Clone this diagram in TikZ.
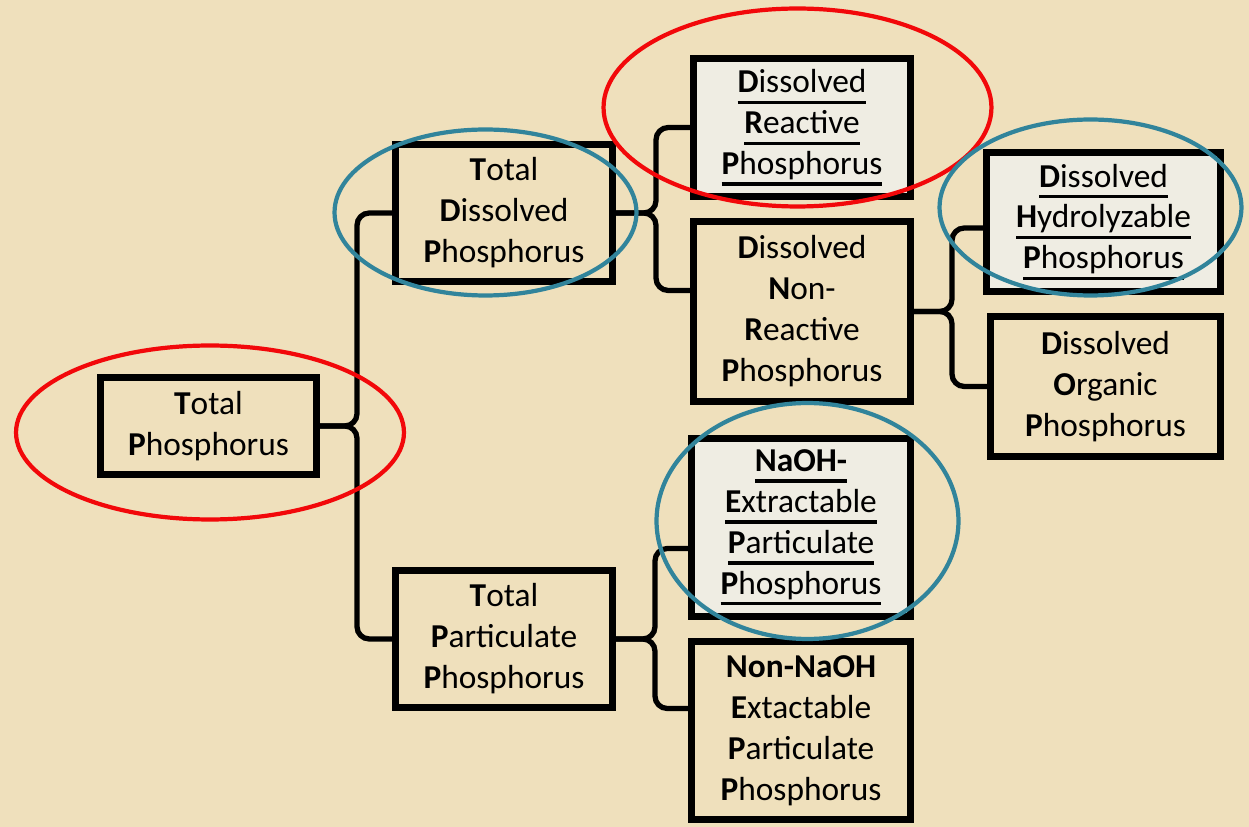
\documentclass[tikz,border=0pt]{standalone}
\usepackage{fontspec}
\setmainfont{Carlito}
\definecolor{parch}{HTML}{EFE0BC}
\definecolor{paper}{HTML}{EFEDE3}
\definecolor{ringR}{HTML}{F2080A}
\definecolor{ringB}{HTML}{31849B}
\newsavebox{\ulbox}
\newcommand{\uln}[1]{\sbox{\ulbox}{#1}\rlap{\rule[-6.4pt]{\wd\ulbox}{1.8pt}}\usebox{\ulbox}}

\begin{document}
\begin{tikzpicture}[x=0.02cm,y=-0.02cm,
  box/.style={draw,line width=3.8pt,inner sep=0pt,align=center,
    font=\fontsize{19}{23.3}\selectfont},
  pick/.style={box,fill=paper},
  brace/.style={line width=3pt,rounded corners=7pt},
  ringr/.style={ringR,line width=2.4pt},
  ringb/.style={ringB,line width=2.4pt}]
\fill[parch] (0,0) rectangle (1249,827);
\useasboundingbox (0,0) rectangle (1249,827);

% boxes
\node[box,minimum width=4.32cm,minimum height=1.94cm] (tp) at (208.5,426) {\textbf{T}otal\\\textbf{P}hosphorus};
\node[box,minimum width=4.34cm,minimum height=2.74cm] (tdp) at (504,213) {\textbf{T}otal\\\textbf{D}issolved\\\textbf{P}hosphorus};
\node[box,minimum width=4.34cm,minimum height=2.74cm] (tpp) at (504,639) {\textbf{T}otal\\\textbf{P}articulate\\\textbf{P}hosphorus};
\node[pick,minimum width=4.34cm,minimum height=2.76cm] (drp) at (802,127.5) {\uln{\textbf{D}issolved}\\\uln{\textbf{R}eactive}\\\uln{\textbf{P}hosphorus}};
\node[box,minimum width=4.34cm,minimum height=3.6cm] (dnrp) at (802,311.5) {\textbf{D}issolved\\\textbf{N}on-\\\textbf{R}eactive\\\textbf{P}hosphorus};
\node[pick,minimum width=4.68cm,minimum height=2.78cm] (dhp) at (1103.5,222) {\uln{\textbf{D}issolved}\\\uln{\textbf{H}ydrolyzable}\\\uln{\textbf{P}hosphorus}};
\node[box,minimum width=4.6cm,minimum height=2.8cm] (dop) at (1105.5,386.5) {\textbf{D}issolved\\\textbf{O}rganic\\\textbf{P}hosphorus};
\node[pick,minimum width=4.38cm,minimum height=3.56cm] (naoh) at (801,527.5) {\uln{\textbf{NaOH-}}\\\uln{\textbf{E}xtractable}\\\uln{\textbf{P}articulate}\\\uln{\textbf{P}hosphorus}};
\node[box,minimum width=4.38cm,minimum height=3.56cm] (nonnaoh) at (801,730.5) {\textbf{Non-NaOH}\\\textbf{E}xtactable\\\textbf{P}articulate\\\textbf{P}hosphorus};

% brace spines and arm ends
\coordinate (s1) at (357,0);
\coordinate (s2) at (656,0);
\coordinate (s3) at (952,0);
\coordinate (s4) at (655,0);
\coordinate (dnrpin) at ([yshift=0.42cm]dnrp.west);
\coordinate (dhpin) at ([yshift=-0.12cm]dhp.west);
\coordinate (naohin) at ([yshift=-0.42cm]naoh.west);
\coordinate (nonin) at ([yshift=0.44cm]nonnaoh.west);

\draw[brace] (tp.east) -| (s1 |- tdp.west) -- (tdp.west);
\draw[brace] (tp.east) -| (s1 |- tpp.west) -- (tpp.west);
\draw[brace] (tdp.east) -| (s2 |- drp.west) -- (drp.west);
\draw[brace] (tdp.east) -| (s2 |- dnrpin) -- (dnrpin);
\draw[brace] (dnrp.east) -| (s3 |- dhpin) -- (dhpin);
\draw[brace] (dnrp.east) -| (s3 |- dop.west) -- (dop.west);
\draw[brace] (tpp.east) -| (s4 |- naohin) -- (naohin);
\draw[brace] (tpp.east) -| (s4 |- nonin) -- (nonin);

% rings
\draw[ringr] (210,432.5) ellipse [x radius=3.88cm,y radius=1.74cm];
\draw[ringr] (797.5,107.5) ellipse [x radius=3.88cm,y radius=1.98cm];
\draw[ringb] (485.5,212.5) ellipse [x radius=3.02cm,y radius=1.66cm];
\draw[ringb] (1090.5,207.5) ellipse [x radius=3.02cm,y radius=1.76cm];
\draw[ringb] (807.5,521) ellipse [x radius=3.02cm,y radius=2.36cm];
\end{tikzpicture}
\end{document}
